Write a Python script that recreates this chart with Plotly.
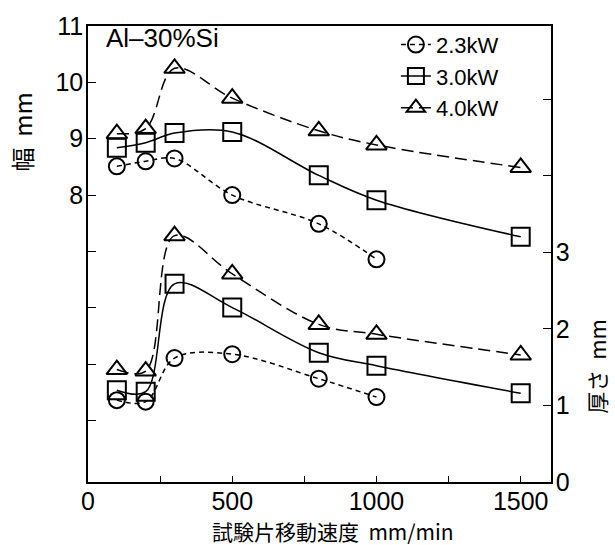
import plotly.graph_objects as go

# ---- data ----
speed = [100, 200, 300, 500, 800, 1000, 1500]
speed_23 = [100, 200, 300, 500, 800, 1000]

width_23 = [8.51, 8.60, 8.65, 8.00, 7.49, 6.86]
width_30 = [8.84, 8.93, 9.10, 9.12, 8.35, 7.91, 7.26]
width_40 = [9.09, 9.18, 10.25, 9.72, 9.14, 8.89, 8.49]

thick_23 = [1.07, 1.05, 1.62, 1.67, 1.35, 1.11]
thick_30 = [1.20, 1.18, 2.59, 2.28, 1.69, 1.52, 1.16]
thick_40 = [1.47, 1.45, 3.22, 2.72, 2.06, 1.93, 1.66]

labels = ["2.3kW", "3.0kW", "4.0kW"]
x_ticks = [0, 250, 500, 750, 1000, 1250, 1500]
x_ticktext = ["0", "", "500", "", "1000", "", "1500"]
left_ticks = [4, 5, 6, 7, 8, 9, 10, 11]
left_ticktext = ["", "", "", "", "8", "9", "10", "11"]
right_ticks = [0, 1, 2, 3, 4, 5]
right_ticktext = ["0", "1", "2", "3", "", ""]

FONT = "Liberation Sans, Arial, Noto Sans CJK JP, sans-serif"
CJK = "Noto Sans CJK JP, Liberation Sans, sans-serif"

styles = [
    dict(dash="5px,4px", symbol="circle-open", size=16),
    dict(dash="solid", symbol="square-open", size=18),
    dict(dash="12px,6px", symbol="triangle-up-open", size=18),
]

fig = go.Figure()

series = [
    (speed_23, width_23, thick_23),
    (speed, width_30, thick_30),
    (speed, width_40, thick_40),
]

for i, (xs, w, t) in enumerate(series):
    st = styles[i]
    fig.add_trace(go.Scatter(
        x=xs, y=w, mode="lines+markers", name=labels[i],
        line=dict(color="black", width=1.5, dash=st["dash"], shape="spline", smoothing=1),
        marker=dict(symbol=st["symbol"], size=st["size"], color="black",
                    line=dict(color="black", width=2)),
        yaxis="y", showlegend=True,
    ))
    fig.add_trace(go.Scatter(
        x=xs, y=t, mode="lines+markers", name=labels[i],
        line=dict(color="black", width=1.5, dash=st["dash"], shape="spline", smoothing=1),
        marker=dict(symbol=st["symbol"], size=st["size"], color="black",
                    line=dict(color="black", width=2)),
        yaxis="y2", showlegend=False,
    ))

fig.update_layout(
    width=615, height=545,
    margin=dict(l=88, r=64, t=21, b=63),
    paper_bgcolor="white", plot_bgcolor="white",
    font=dict(family=FONT, size=25, color="black"),
    showlegend=True,
    legend=dict(x=0.665, y=1.005, xanchor="left", yanchor="top",
                bgcolor="rgba(0,0,0,0)", borderwidth=0,
                font=dict(size=22, family=FONT), tracegroupgap=0),
    xaxis=dict(range=[0, 1605], tickvals=x_ticks, ticktext=x_ticktext,
               ticks="inside", ticklen=6, tickwidth=1, tickcolor="black",
               showline=True, linecolor="black", linewidth=1.5, mirror=True,
               showgrid=False, zeroline=False, ticklabelstandoff=-4,
               tickfont=dict(size=25, family=FONT)),
    yaxis=dict(range=[2.91, 11], tickvals=left_ticks, ticktext=left_ticktext,
               ticks="inside", ticklen=8, tickwidth=1, tickcolor="black",
               showline=True, linecolor="black", linewidth=1.5,
               showgrid=False, zeroline=False, ticklabelstandoff=-2,
               tickfont=dict(size=25, family=FONT)),
    yaxis2=dict(range=[0, 5.96], tickvals=right_ticks, ticktext=right_ticktext,
                overlaying="y", side="right",
                ticks="inside", ticklen=8, tickwidth=1, tickcolor="black",
                showline=True, linecolor="black", linewidth=1.5,
                showgrid=False, zeroline=False, ticklabelstandoff=-2,
                tickfont=dict(size=25, family=FONT)),
    annotations=[
        dict(text="Al–30%Si", x=0.035, y=1.012, xref="paper", yref="paper",
             xanchor="left", yanchor="top", showarrow=False,
             font=dict(size=26, family=FONT)),
        dict(text="幅  mm", x=-0.143, y=0.768, xref="paper", yref="paper",
             xanchor="center", yanchor="middle", showarrow=False, textangle=-90,
             font=dict(size=24, family=CJK)),
        dict(text="厚さ  mm", x=1.097, y=0.255, xref="paper", yref="paper",
             xanchor="center", yanchor="middle", showarrow=False, textangle=-90,
             font=dict(size=22, family=CJK)),
        dict(text="試験片移動速度  mm/min", x=0.53, y=-0.108, xref="paper", yref="paper",
             xanchor="center", yanchor="middle", showarrow=False,
             font=dict(size=21, family=CJK)),
    ],
)

fig.write_html("out.html")
